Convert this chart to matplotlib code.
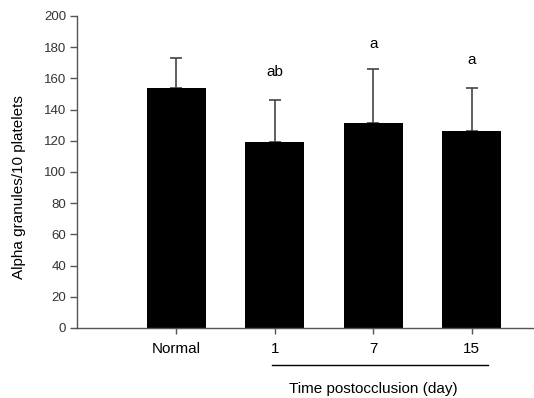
import matplotlib
matplotlib.use("Agg")
import matplotlib.pyplot as plt

categories = ["Normal", "1", "7", "15"]
means = [154, 119, 131.5, 126.5]
errors = [19, 27, 34.5, 27.5]
letters = ["", "ab", "a", "a"]
letter_y = [None, 164, 182, 172]
yticks = [0, 20, 40, 60, 80, 100, 120, 140, 160, 180, 200]

plt.rcParams['font.family'] = ['Liberation Sans', 'DejaVu Sans']

fig = plt.figure(figsize=(5.34, 3.98), dpi=100)
ax = fig.add_axes([0.145, 0.176, 0.853, 0.784])

pos = list(range(1, len(categories) + 1))
ax.bar(pos, means, width=0.6, color="black", zorder=2)
ax.errorbar(pos, means, yerr=[[0] * len(errors), errors], fmt="none",
            ecolor="#444444", elinewidth=1.2, capsize=4, capthick=1.2, zorder=1)

for p, t, ly in zip(pos, letters, letter_y):
    if t:
        ax.text(p, ly, t, ha="center", va="center", fontsize=11)

ax.set_xlim(-0.005, 4.62)
ax.set_ylim(0, 200)
ax.set_yticks(yticks)
ax.set_xticks(pos)
ax.set_xticklabels(categories, fontsize=11)
ax.tick_params(axis="y", labelsize=9.5, length=5, width=1, color="#555555",
               labelcolor="#333333", pad=3)
ax.tick_params(axis="x", length=4, width=1, color="#555555", pad=6)
for s in ["top", "right"]:
    ax.spines[s].set_visible(False)
for s in ["left", "bottom"]:
    ax.spines[s].set_color("#555555")
    ax.spines[s].set_linewidth(1)

ax.set_ylabel("Alpha granules/10 platelets", fontsize=11)
ax.yaxis.set_label_coords(-0.112, 0.45)

# underline for time group
fig.add_artist(plt.Line2D([272 / 534, 488 / 534], [1 - 365 / 398, 1 - 365 / 398],
                          color="black", lw=1))
fig.text(373 / 534, 1 - 389 / 398, "Time postocclusion (day)", ha="center",
         va="center", fontsize=11)

fig.savefig("out.png", dpi=100)
